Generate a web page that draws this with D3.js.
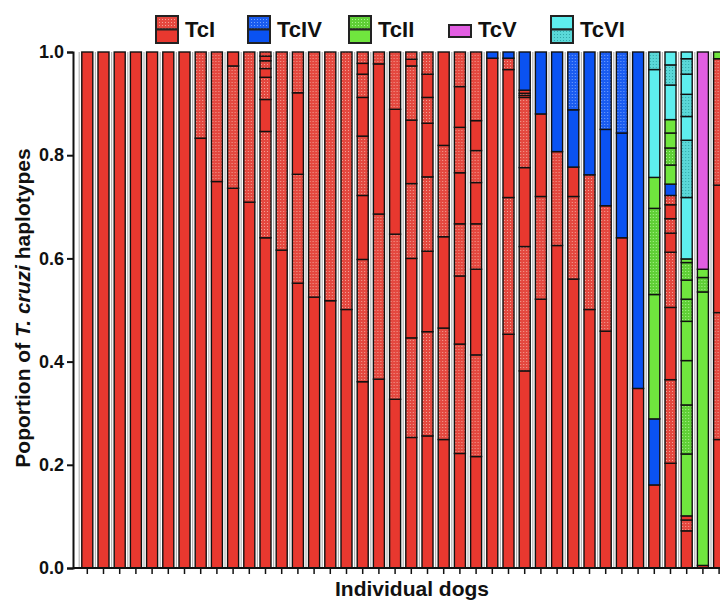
<!DOCTYPE html>
<html><head><meta charset="utf-8">
<script src="https://cdn.jsdelivr.net/npm/d3@7"></script>
<style>
body{margin:0;background:#fff}
svg{display:block}
text{font-family:"Liberation Sans",Arial,Helvetica,sans-serif;font-weight:bold;fill:#111}
</style>
</head><body>
<svg id="chart" width="720" height="603"></svg>
<script>
// ---- data ----
const lineages = ["TcI", "TcIV", "TcII", "TcV", "TcVI"];
const yTickValues = [0, 0.2, 0.4, 0.6, 0.8, 1.0];
const xLabel = "Individual dogs";
// each dog: haplotype segments bottom -> top : [lineage, "s" solid | "d" dotted, proportion]
const dogProfiles = [
  [["TcI","s",1.0]],
  [["TcI","s",1.0]],
  [["TcI","s",1.0]],
  [["TcI","s",1.0]],
  [["TcI","s",1.0]],
  [["TcI","s",1.0]],
  [["TcI","s",1.0]],
  [["TcI","s",0.833],["TcI","d",0.167]],
  [["TcI","s",0.749],["TcI","d",0.251]],
  [["TcI","s",0.736],["TcI","d",0.237],["TcI","s",0.027]],
  [["TcI","s",0.709],["TcI","d",0.291]],
  [["TcI","s",0.640],["TcI","d",0.206],["TcI","s",0.062],["TcI","d",0.043],["TcI","s",0.017],["TcI","d",0.015],["TcI","s",0.009],["TcI","d",0.008]],
  [["TcI","s",0.616],["TcI","d",0.384]],
  [["TcI","s",0.552],["TcI","d",0.211],["TcI","s",0.158],["TcI","d",0.079]],
  [["TcI","s",0.525],["TcI","d",0.475]],
  [["TcI","s",0.518],["TcI","d",0.482]],
  [["TcI","s",0.501],["TcI","d",0.499]],
  [["TcI","s",0.361],["TcI","d",0.237],["TcI","s",0.124],["TcI","d",0.115],["TcI","s",0.075],["TcI","d",0.045],["TcI","s",0.021],["TcI","d",0.022]],
  [["TcI","s",0.366],["TcI","d",0.320],["TcI","s",0.291],["TcI","d",0.023]],
  [["TcI","s",0.327],["TcI","d",0.320],["TcI","s",0.242],["TcI","d",0.111]],
  [["TcI","s",0.253],["TcI","d",0.193],["TcI","s",0.154],["TcI","d",0.145],["TcI","s",0.123],["TcI","d",0.105],["TcI","s",0.013],["TcI","d",0.014]],
  [["TcI","s",0.256],["TcI","d",0.202],["TcI","s",0.156],["TcI","d",0.144],["TcI","s",0.104],["TcI","d",0.050],["TcI","s",0.045],["TcI","d",0.043]],
  [["TcI","s",0.249],["TcI","d",0.216],["TcI","s",0.177],["TcI","d",0.177],["TcI","s",0.181]],
  [["TcI","s",0.222],["TcI","d",0.212],["TcI","s",0.132],["TcI","d",0.101],["TcI","s",0.099],["TcI","d",0.088],["TcI","s",0.079],["TcI","d",0.067]],
  [["TcI","s",0.216],["TcI","d",0.197],["TcI","s",0.166],["TcI","d",0.088],["TcI","s",0.080],["TcI","d",0.062],["TcI","s",0.058],["TcI","d",0.133]],
  [["TcI","s",0.988],["TcIV","s",0.012]],
  [["TcI","s",0.453],["TcI","d",0.265],["TcI","s",0.248],["TcI","d",0.022],["TcIV","s",0.012]],
  [["TcI","s",0.382],["TcI","d",0.241],["TcI","s",0.153],["TcI","d",0.136],["TcI","s",0.004],["TcI","d",0.004],["TcI","s",0.006],["TcIV","s",0.074]],
  [["TcI","s",0.521],["TcI","d",0.199],["TcI","s",0.160],["TcIV","s",0.120]],
  [["TcI","s",0.625],["TcI","d",0.182],["TcIV","s",0.193]],
  [["TcI","s",0.560],["TcI","d",0.160],["TcI","s",0.057],["TcIV","s",0.111],["TcIV","d",0.112]],
  [["TcI","s",0.501],["TcI","d",0.261],["TcIV","s",0.238]],
  [["TcI","s",0.459],["TcI","d",0.243],["TcIV","s",0.148],["TcIV","d",0.150]],
  [["TcI","s",0.640],["TcIV","s",0.203],["TcIV","d",0.157]],
  [["TcI","s",0.348],["TcIV","s",0.652]],
  [["TcI","s",0.161],["TcIV","s",0.128],["TcII","s",0.241],["TcII","d",0.167],["TcII","s",0.060],["TcVI","s",0.209],["TcVI","d",0.034]],
  [["TcI","s",0.203],["TcI","d",0.162],["TcI","s",0.140],["TcI","d",0.107],["TcI","s",0.037],["TcI","d",0.028],["TcI","s",0.027],["TcI","d",0.018],["TcIV","s",0.022],["TcII","s",0.037],["TcII","d",0.033],["TcII","s",0.029],["TcII","s",0.026],["TcVI","s",0.067],["TcVI","d",0.039],["TcVI","s",0.025]],
  [["TcI","s",0.072],["TcI","d",0.021],["TcI","s",0.008],["TcII","s",0.120],["TcII","d",0.095],["TcII","s",0.086],["TcII","s",0.076],["TcII","d",0.043],["TcII","s",0.037],["TcII","d",0.034],["TcII","s",0.007],["TcVI","s",0.119],["TcVI","d",0.111],["TcVI","s",0.046],["TcVI","d",0.043],["TcVI","s",0.039],["TcVI","d",0.030],["TcVI","s",0.013]],
  [["TcI","s",0.005],["TcII","s",0.530],["TcII","d",0.028],["TcII","s",0.016],["TcV","s",0.421]],
  [["TcI","s",0.249],["TcI","d",0.246],["TcI","s",0.247],["TcI","d",0.245],["TcII","s",0.013]]
];
// legend swatch layout: parts top -> bottom
const legendParts = {TcI:["d","s"], TcIV:["d","s"], TcII:["d","s"], TcV:["s"], TcVI:["s","d"]};

// ---- styles ----
const solidColor = {TcI:"#e8382f", TcIV:"#0a52f2", TcII:"#70e63e", TcV:"#e25ee2", TcVI:"#5eeeee"};
const dotBase   = {TcI:"#e4483f", TcIV:"#1a5cf0", TcII:"#5fcf36", TcV:"#e25ee2", TcVI:"#5ad8d8"};
const dotColor  = {TcI:"#f3a196", TcIV:"#74a2ff", TcII:"#a8f58c", TcV:"#f0a0f0", TcVI:"#2fa8a8"};

const svg = d3.select("#chart");
const defs = svg.append("defs");
lineages.forEach(l => {
  const p = defs.append("pattern").attr("id", "dot-" + l)
    .attr("patternUnits", "userSpaceOnUse").attr("width", 3).attr("height", 3);
  p.append("rect").attr("width", 3).attr("height", 3).attr("fill", dotBase[l]);
  p.append("rect").attr("x", 1).attr("y", 1).attr("width", 1).attr("height", 1).attr("fill", dotColor[l]);
});
const fillOf = (l, s) => s === "d" ? `url(#dot-${l})` : solidColor[l];

const dogIndex = dogProfiles.map((d, i) => i);
const x = d3.scaleBand().domain(dogIndex).range([79.2, 727.2]).paddingInner(0.32).paddingOuter(0.16);
const y = d3.scaleLinear().domain([0, 1]).range([568, 52]);

// gray separators between bars
const step = x.step();
const seps = dogIndex.map(i => x(i) - x.paddingOuter() * step);
svg.append("g").selectAll("line").data(seps).join("line")
  .attr("x1", d => d).attr("x2", d => d).attr("y1", y(1)).attr("y2", y(0))
  .attr("stroke", "#b4b4b4").attr("stroke-width", 1.2);

// bars
const bars = svg.append("g").selectAll("g").data(dogProfiles).join("g")
  .attr("transform", (d, i) => `translate(${x(i)},0)`);
bars.each(function(segs) {
  const cum = d3.cumsum(segs, s => s[2]);
  const data = segs.map((s, k) => ({l: s[0], st: s[1], y0: k ? cum[k-1] : 0, y1: cum[k]}));
  d3.select(this).selectAll("rect").data(data).join("rect")
    .attr("x", 0).attr("width", x.bandwidth())
    .attr("y", d => y(d.y1)).attr("height", d => Math.max(0, y(d.y0) - y(d.y1)))
    .attr("fill", d => fillOf(d.l, d.st))
    .attr("stroke", "#111").attr("stroke-width", 1.4);
});

// axes
const yAxis = d3.axisLeft(y).tickValues(yTickValues).tickFormat(d3.format(".1f")).tickSize(6).tickPadding(3);
const gy = svg.append("g").attr("transform", "translate(73,0)").call(yAxis);
gy.select(".domain").attr("stroke", "#111").attr("stroke-width", 2);
gy.selectAll(".tick line").attr("stroke", "#111").attr("stroke-width", 2);
gy.selectAll(".tick text").style("font-size", "18px").style("font-weight", "bold").attr("fill", "#111")
  .style("font-family", '"Liberation Sans",Arial,sans-serif');

const xAxis = d3.axisBottom(x).tickFormat("").tickSize(6).tickSizeOuter(0);
const gx = svg.append("g").attr("transform", "translate(0,568)").call(xAxis);
gx.select(".domain").attr("d", `M73,0H720`).attr("stroke", "#111").attr("stroke-width", 2);
gx.selectAll(".tick line").attr("stroke", "#111").attr("stroke-width", 1.5);

// axis titles
svg.append("text").attr("x", 412).attr("y", 596).attr("text-anchor", "middle")
  .style("font-size", "21px").text(xLabel);
const yt = svg.append("text").attr("transform", "translate(30,308) rotate(-90)")
  .attr("text-anchor", "middle").style("font-size", "21px");
yt.append("tspan").text("Poportion of ");
yt.append("tspan").style("font-style", "italic").text("T. cruzi");
yt.append("tspan").text(" haplotypes");

// legend
const legendX = {TcI:155, TcIV:247, TcII:348, TcV:448, TcVI:550};
lineages.forEach(l => {
  const g = svg.append("g").attr("transform", `translate(${legendX[l]},0)`);
  const parts = legendParts[l];
  if (parts.length === 1) {
    g.append("rect").attr("x", 1).attr("y", 25).attr("width", 22).attr("height", 12)
      .attr("fill", fillOf(l, parts[0])).attr("stroke", "#222").attr("stroke-width", 2);
  } else {
    parts.forEach((p, k) => {
      g.append("rect").attr("x", 1).attr("y", 16 + k * 13.5).attr("width", 22).attr("height", 13.5)
        .attr("fill", fillOf(l, p)).attr("stroke", "#222").attr("stroke-width", 2);
    });
  }
  g.append("text").attr("x", 30).attr("y", 37).style("font-size", "22px").text(l);
});
</script>
</body></html>
